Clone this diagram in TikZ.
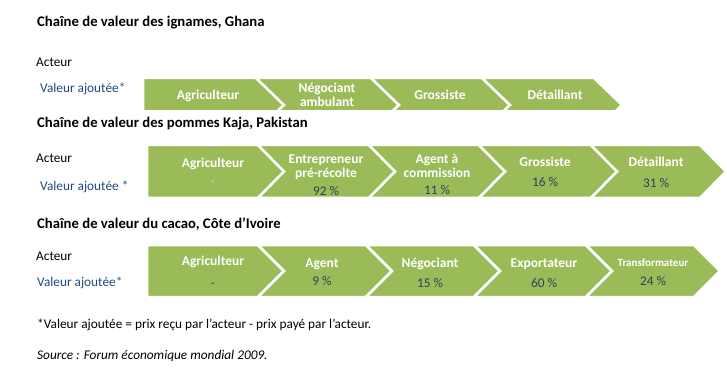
\documentclass[tikz,border=0pt]{standalone}
\usepackage{fontspec}
\setmainfont{Carlito}
\definecolor{chevgreen}{HTML}{9BBB59}
\definecolor{lblue}{HTML}{1F497D}
\definecolor{pctcol}{HTML}{2A4657}
\definecolor{dashcol}{HTML}{D9D6B0}
\newcommand\firstchev[5]{\path[chevshape] (#1,#3) -- (#2,#3) -- ({#2+#5},{(#3+#4)/2}) -- (#2,#4) -- (#1,#4) -- cycle;}
\newcommand\midchev[5]{\path[chevshape] (#1,#3) -- (#2,#3) -- ({#2+#5},{(#3+#4)/2}) -- (#2,#4) -- (#1,#4) -- ({#1+#5},{(#3+#4)/2}) -- cycle;}
\begin{document}
\begin{tikzpicture}[x=1pt,y=-1pt,
  titletext/.style={anchor=base west, inner sep=0pt, font=\fontsize{14.7}{16}\selectfont\bfseries},
  bodytext/.style={anchor=base west, inner sep=0pt, font=\fontsize{13.3}{16}\selectfont},
  vlabel/.style={bodytext, text=lblue},
  clabel/.style={anchor=base, inner sep=0pt, text=white, font=\fontsize{13.5}{14}\selectfont\bfseries},
  slabel/.style={anchor=base, inner sep=0pt, text=white, font=\fontsize{11}{12}\selectfont\bfseries},
  pctlabel/.style={anchor=base, inner sep=0pt, text=pctcol, font=\fontsize{13.3}{14}\selectfont},
  chevshape/.style={fill=chevgreen, draw=white, line width=2.5pt, line join=miter}]
\useasboundingbox (0,0) rectangle (727,371);
\fill[white] (0,0) rectangle (727,371);

% ---------- Row 1 : Ghana ----------
\begin{scope}
\clip (0,0) rectangle (727,110);
\firstchev{143}{256}{78}{132}{28}
\midchev{256}{371}{78}{132}{28}
\midchev{371}{482}{78}{132}{28}
\midchev{482}{594}{78}{132}{28}
\end{scope}
\node[titletext] (t1) at (37,27) {Chaîne de valeur des ignames, Ghana};
\node[bodytext] (act1) at (36,67) {Acteur};
\node[vlabel] (va1) at (40,93) {Valeur ajoutée*};
\node[clabel] (g1) at (208,100) {Agriculteur};
\node[clabel] (g2a) at (327,93) {Négociant};
\node[clabel] (g2b) at (327,107) {ambulant};
\node[clabel] (g3) at (440,100) {Grossiste};
\node[clabel] (g4) at (555,100) {Détaillant};

% ---------- Row 2 : Pakistan ----------
\firstchev{147}{258}{145}{198}{26}
\midchev{258}{369}{145}{198}{26}
\midchev{369}{479}{145}{198}{26}
\midchev{479}{591}{145}{198}{26}
\midchev{591}{700}{145}{198}{26}
\node[titletext] (t2) at (37,128) {Chaîne de valeur des pommes Kaja, Pakistan};
\node[bodytext] (act2) at (36,163) {Acteur};
\node[vlabel] (va2) at (40,191) {Valeur ajoutée *};
\node[clabel] (p1) at (213,168) {Agriculteur};
\node[pctlabel, text=dashcol] (p1v) at (213,186) {-};
\node[clabel] (p2a) at (326,164) {Entrepreneur};
\node[clabel] (p2b) at (326,178) {pré-récolte};
\node[pctlabel] (p2v) at (326,196) {92~\%};
\node[clabel] (p3a) at (437,164) {Agent à};
\node[clabel] (p3b) at (437,178) {commission};
\node[pctlabel] (p3v) at (437,195) {11~\%};
\node[clabel] (p4) at (545,167) {Grossiste};
\node[pctlabel] (p4v) at (545,187) {16~\%};
\node[clabel] (p5) at (656,167) {Détaillant};
\node[pctlabel] (p5v) at (656,188) {31~\%};

% ---------- Row 3 : Côte d'Ivoire ----------
\firstchev{147}{258}{245}{297}{26}
\midchev{258}{366}{245}{297}{26}
\midchev{366}{474}{245}{297}{26}
\midchev{474}{586}{245}{297}{26}
\midchev{586}{694}{245}{297}{26}
\node[titletext] (t3) at (37,228) {Chaîne de valeur du cacao, Côte d’Ivoire};
\node[bodytext] (act3) at (36,260) {Acteur};
\node[vlabel] (va3) at (37,286) {Valeur ajoutée*};
\node[clabel] (c1) at (213,265) {Agriculteur};
\node[pctlabel] (c1v) at (213,287) {-};
\node[clabel] (c2) at (322,267) {Agent};
\node[pctlabel] (c2v) at (322,285) {9~\%};
\node[clabel] (c3) at (430,267) {Négociant};
\node[pctlabel] (c3v) at (430,287) {15~\%};
\node[clabel] (c4) at (544,267) {Exportateur};
\node[pctlabel] (c4v) at (544,287) {60~\%};
\node[slabel] (c5) at (653,266) {Transformateur};
\node[pctlabel] (c5v) at (653,285) {24~\%};

% ---------- Notes ----------
\node[bodytext] (note) at (37,328) {*Valeur ajoutée = prix reçu par l’acteur - prix payé par l’acteur.};
\node[bodytext, font=\fontsize{13.3}{16}\selectfont\itshape] (src) at (37,359) {Source : Forum économique mondial 2009.};
\end{tikzpicture}
\end{document}
